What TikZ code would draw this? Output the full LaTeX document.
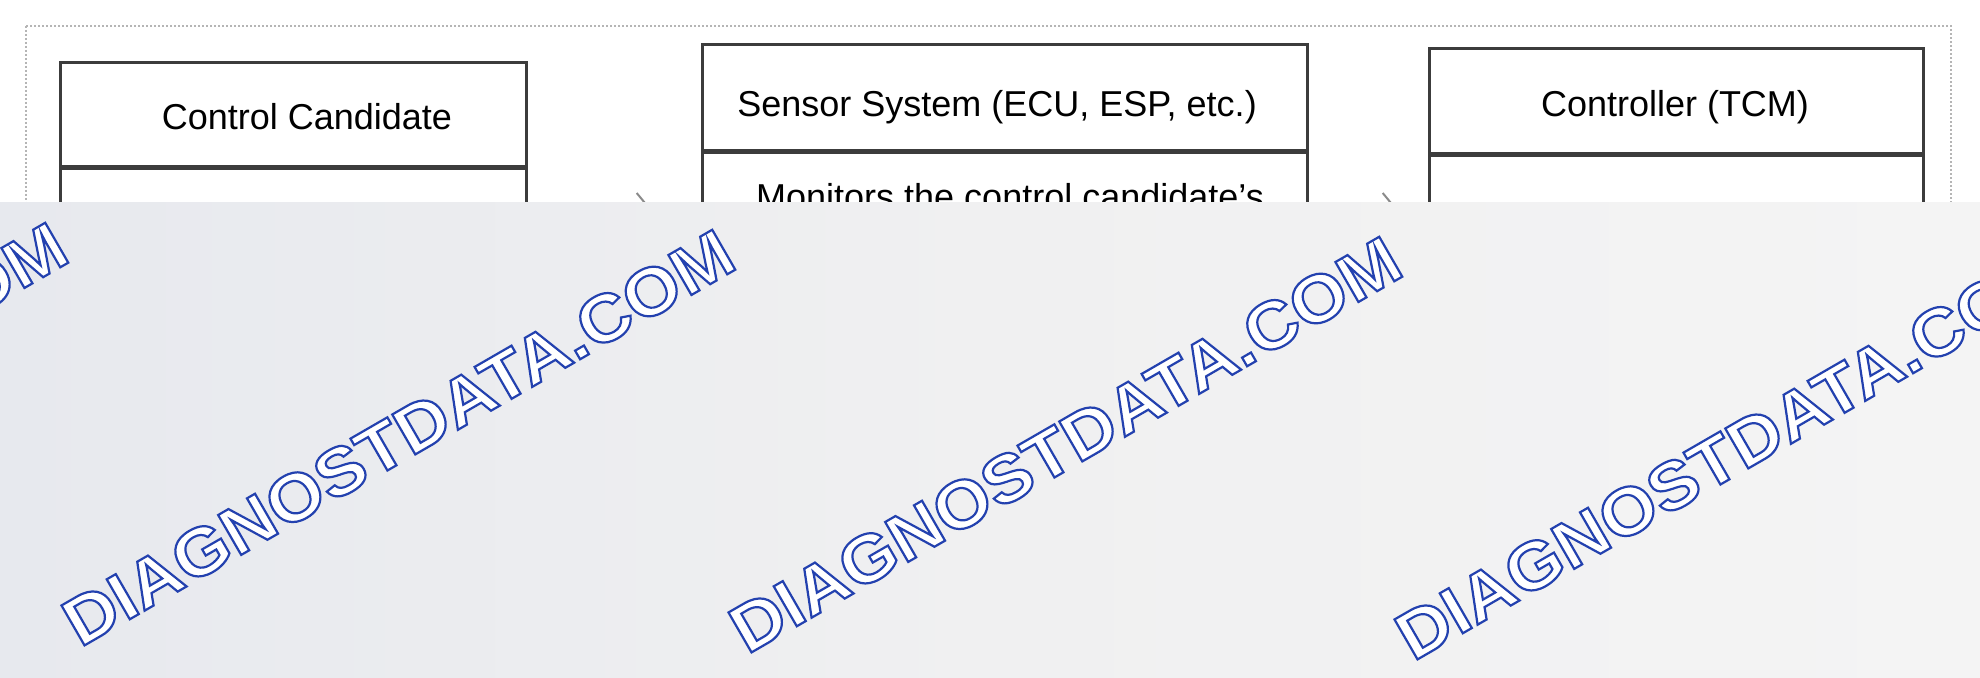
\documentclass[tikz,border=0pt]{standalone}
\usepackage{fontspec}
\setmainfont{Liberation Sans}
\newfontfamily\wmfont[FakeStretch=1.08]{Liberation Sans}
\usetikzlibrary{arrows.meta}
\definecolor{boxline}{HTML}{3C3C3C}
\definecolor{framegrey}{HTML}{B5B5B5}
\definecolor{arrowgrey}{HTML}{8A8A8A}
\definecolor{wmblue}{RGB}{35,65,175}
\definecolor{ovl}{HTML}{E7E9EE}
\definecolor{ovm}{HTML}{F0F0F1}
\definecolor{ovr}{HTML}{F4F4F4}
\begin{document}
\begin{tikzpicture}[x=0.5pt,y=-0.5pt,
  boxpart/.style={draw=boxline,line width=1.3pt,fill=white,inner sep=0pt,anchor=north west},
  hdrtext/.style={font=\fontsize{18}{22}\selectfont,text=black,inner sep=0pt,anchor=base},
  arr/.style={draw=arrowgrey,line width=1pt,-{Straight Barb[length=7pt,width=17pt]}},
  frame/.style={draw=framegrey,line width=1pt,dash pattern=on 1pt off 1pt},
  wm/.style={font=\wmfont\bfseries\fontsize{33.5}{40}\selectfont,text=wmblue,inner sep=0pt,anchor=base west,rotate=30}]
\useasboundingbox (0,0) rectangle (1980,678);
\fill[white] (0,0) rectangle (1980,678);
\draw[frame] (26,26) rectangle (1951,660);
% box 1
\node[boxpart,minimum width=233pt,minimum height=52pt] (h1) at (59,61) {};
\node[boxpart,minimum width=233pt,minimum height=230pt] (b1) at (h1.south west) {};
% box 2
\node[boxpart,minimum width=302.5pt,minimum height=53pt] (h2) at (701,43) {};
\node[boxpart,minimum width=302.5pt,minimum height=230pt] (b2) at (h2.south west) {};
% box 3
\node[boxpart,minimum width=247pt,minimum height=52.5pt] (h3) at (1428,47) {};
\node[boxpart,minimum width=247pt,minimum height=230pt] (b3) at (h3.south west) {};
% texts
\node[hdrtext] (t1) at (307,130) {Control Candidate};
\node[hdrtext] (t2) at (997,117) {Sensor System (ECU, ESP, etc.)};
\node[hdrtext] (t3) at (1675,117) {Controller (TCM)};
\node[hdrtext] (t4) at (1010,210) {Monitors the control candidate's};
% arrows
\coordinate (a1) at (652,210);
\coordinate (a2) at (1398,210);
\draw[arr] (b1.east |- a1) -- (a1);
\draw[arr] (b2.east |- a2) -- (a2);
% overlay band
\shade[left color=ovl, right color=ovr, middle color=ovm] (0,203) rectangle (1980,678);
% watermarks
\foreach \i/\x/\y in {0/-587/641, 1/80/648, 2/747/655, 3/1413/662}
  \node[wm] (wm\i) at (\x,\y) {\special{pdf:code 2 Tr 1.1 w 1 1 1 rg}DIAGNOSTDATA.COM\special{pdf:code 0 Tr}};
\end{tikzpicture}
\end{document}
